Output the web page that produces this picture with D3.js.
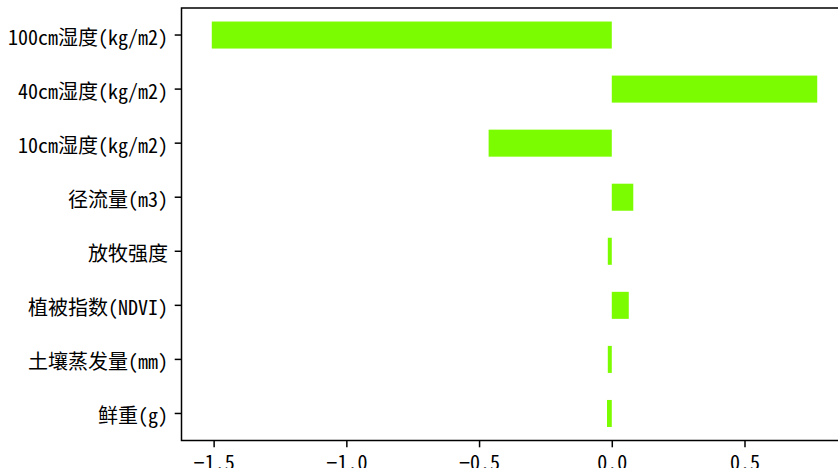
<!DOCTYPE html>
<html>
<head>
<meta charset="utf-8">
<script src="https://cdn.jsdelivr.net/npm/d3@7"></script>
<style>
  html, body { margin: 0; padding: 0; background: #fff; }
  svg { display: block; }
  text { font-family: "Noto Sans Mono CJK SC", "Noto Sans CJK SC", sans-serif; }
</style>
</head>
<body>
<script>
// Feature names (top to bottom) and their coefficients
const categories = [
  "100cm湿度(kg/m2)",
  "40cm湿度(kg/m2)",
  "10cm湿度(kg/m2)",
  "径流量(m3)",
  "放牧强度",
  "植被指数(NDVI)",
  "土壤蒸发量(mm)",
  "鲜重(g)"
];
const values = [-1.507, 0.774, -0.464, 0.081, -0.015, 0.064, -0.015, -0.018];
const xTicks = [-1.5, -1.0, -0.5, 0.0, 0.5];

const W = 838, H = 468;
const plot = { left: 181.5, right: 847.5, top: 8, bottom: 440.5 };
const fontPx = 20, tickLen = 6.8, tickPad = 6.8;

const svg = d3.select("body").append("svg")
  .attr("width", W).attr("height", H);

// x-limits: data extent (incl. zero) padded by 5% on each side
const lo = Math.min(0, d3.min(values)), hi = Math.max(0, d3.max(values));
const pad = (hi - lo) * 0.05;
const x = d3.scaleLinear().domain([lo - pad, hi + pad]).range([plot.left, plot.right]);

const y = d3.scaleBand().domain(categories)
  .range([plot.top, plot.bottom]).paddingInner(0.5).paddingOuter(0.25);

// bars
svg.append("g").selectAll("rect").data(values).join("rect")
  .attr("x", d => x(Math.min(0, d)))
  .attr("width", d => Math.abs(x(d) - x(0)))
  .attr("y", (d, i) => y(categories[i]))
  .attr("height", y.bandwidth())
  .attr("fill", "#7CFC00");

// frame
svg.append("rect")
  .attr("x", plot.left).attr("y", plot.top)
  .attr("width", plot.right - plot.left).attr("height", plot.bottom - plot.top)
  .attr("fill", "none").attr("stroke", "#000").attr("stroke-width", 1.5);

const fmt = d => d3.format(".1f")(d).replace("-", "\u2212");

// bottom axis
const xAxis = d3.axisBottom(x).tickValues(xTicks).tickFormat(fmt)
  .tickSize(tickLen).tickPadding(tickPad);
const gx = svg.append("g").attr("transform", `translate(0,${plot.bottom})`).call(xAxis);
gx.select(".domain").remove();
gx.selectAll(".tick line").attr("stroke", "#000").attr("stroke-width", 1.5);
gx.selectAll(".tick text").attr("fill", "#000").style("font-size", fontPx + "px")
  .attr("y", tickLen + tickPad + 2);

// left axis
const yAxis = d3.axisLeft(y).tickSize(tickLen).tickPadding(tickPad);
const gy = svg.append("g").attr("transform", `translate(${plot.left},0)`).call(yAxis);
gy.select(".domain").remove();
gy.selectAll(".tick line").attr("stroke", "#000").attr("stroke-width", 1.5);
gy.selectAll(".tick text").attr("fill", "#000").style("font-size", fontPx + "px")
  .attr("dy", "0.5em");
</script>
</body>
</html>
